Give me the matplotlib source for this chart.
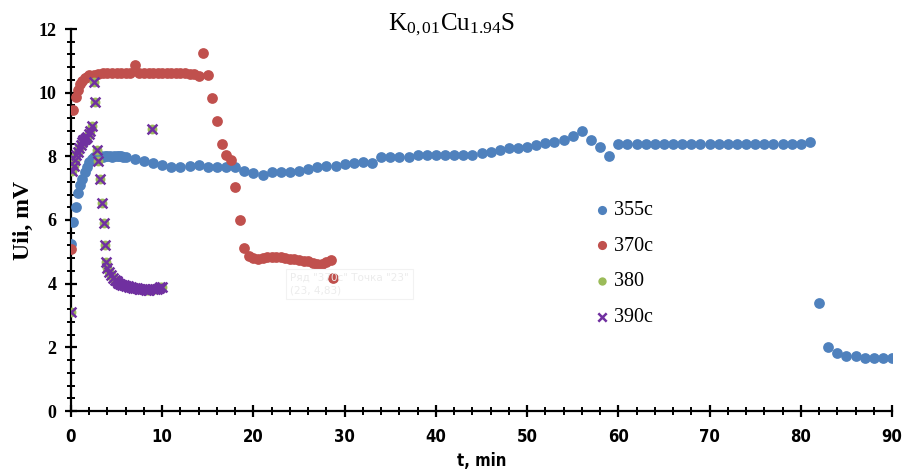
import matplotlib
matplotlib.use("Agg")
import matplotlib.pyplot as plt
from matplotlib.ticker import MultipleLocator

plt.rcParams["mathtext.fontset"] = "custom"
plt.rcParams["mathtext.rm"] = "Liberation Serif"
plt.rcParams["mathtext.it"] = "Liberation Serif:italic"
plt.rcParams["mathtext.bf"] = "Liberation Serif:bold"

# ---------------- data ----------------
t_355 = [0, 0.25, 0.5, 0.75, 1.0, 1.25, 1.5, 1.75, 2.0, 2.25, 2.5, 2.75, 3.0, 3.25,
         3.5, 3.75, 4.0, 4.25, 4.5, 4.75, 5.0, 5.25, 5.5, 5.75, 6.0,
         7, 8, 9, 10, 11, 12, 13, 14, 15, 16, 17, 18, 19, 20, 21, 22, 23, 24, 25,
         26, 27, 28, 29, 30, 31, 32, 33, 34, 35, 36, 37, 38, 39, 40, 41, 42, 43, 44,
         45, 46, 47, 48, 49, 50, 51, 52, 53, 54, 55, 56, 57, 58, 59, 60, 61, 62, 63,
         64, 65, 66, 67, 68, 69, 70, 71, 72, 73, 74, 75, 76, 77, 78, 79, 80, 81,
         82, 83, 84, 85, 86, 87, 88, 89, 90]
u_355 = [5.25, 5.95, 6.4, 6.85, 7.1, 7.3, 7.5, 7.68, 7.82, 7.92, 7.97, 8.0, 8.0, 8.0,
         7.99, 8.0, 8.01, 8.0, 7.99, 8.0, 8.01, 8.02, 8.0, 7.99, 7.99,
         7.93, 7.86, 7.8, 7.73, 7.68, 7.68, 7.7, 7.74, 7.68, 7.68, 7.68, 7.65, 7.55,
         7.49, 7.42, 7.5, 7.5, 7.5, 7.55, 7.6, 7.65, 7.7, 7.7, 7.75, 7.78, 7.81, 7.8,
         7.97, 7.97, 7.97, 7.97, 8.05, 8.05, 8.05, 8.05, 8.05, 8.05, 8.05,
         8.12, 8.15, 8.2, 8.25, 8.25, 8.3, 8.36, 8.41, 8.46, 8.51, 8.64, 8.8, 8.51,
         8.28, 8.02, 8.39, 8.39, 8.39, 8.39, 8.39, 8.39, 8.39, 8.39, 8.39, 8.39,
         8.39, 8.39, 8.39, 8.39, 8.39, 8.39, 8.39, 8.39, 8.39, 8.39, 8.39, 8.44,
         3.40, 2.02, 1.83, 1.73, 1.73, 1.67, 1.67, 1.67, 1.67]

t_370 = [0, 0.25, 0.5, 0.75, 1.0, 1.25, 1.5, 1.75, 2.0, 2.5, 3.0, 3.5, 4.0, 4.5,
         5.0, 5.5, 6.0, 6.5, 7.0, 7.5, 8.0, 8.5, 9.0, 9.5, 10.0, 10.5, 11.0, 11.5,
         12.0, 12.5, 13.0, 13.5, 14.0, 14.5, 15.0, 15.5, 16.0, 16.5, 17.0, 17.5,
         18.0, 18.5, 19.0, 19.5, 20.0, 20.5, 21.0, 21.5, 22.0, 22.5, 23.0, 23.5,
         24.0, 24.5, 25.0, 25.5, 26.0, 26.5, 27.0, 27.5, 28.0, 28.5, 28.7]
u_370 = [5.1, 9.46, 9.85, 10.08, 10.28, 10.38, 10.45, 10.5, 10.54, 10.57, 10.6,
         10.61, 10.62, 10.62, 10.62, 10.62, 10.61, 10.62, 10.87, 10.62, 10.62,
         10.62, 10.62, 10.62, 10.62, 10.62, 10.62, 10.62, 10.62, 10.61, 10.6,
         10.58, 10.52, 11.24, 10.55, 9.84, 9.12, 8.39, 8.04, 7.88, 7.04, 6.0, 5.12,
         4.86, 4.8, 4.78, 4.82, 4.83, 4.83, 4.83, 4.83, 4.8, 4.79, 4.77, 4.74, 4.72,
         4.7, 4.65, 4.62, 4.62, 4.68, 4.73, 4.17]

t_380 = [0, 0.15, 0.3, 0.45, 0.6, 0.75, 0.9, 1.05, 1.2, 1.35, 1.5, 1.65, 1.8,
         1.95, 2.1, 2.25, 2.5, 2.62, 2.8, 2.95, 3.15, 3.45, 3.6, 3.72, 3.84,
         4.0, 4.2, 4.4, 4.6, 4.8, 5.0, 5.2, 5.4, 5.6, 5.8, 6.0, 6.2, 6.4, 6.6,
         6.8, 7.0, 7.2, 7.4, 7.6, 7.8, 8.0, 8.2, 8.4, 8.6, 8.85, 9.0, 9.2, 9.4,
         9.6, 9.8, 10.0]
u_380 = [3.12, 7.55, 7.7, 7.9, 8.05, 8.15, 8.25, 8.35, 8.45, 8.5, 8.55, 8.58,
         8.62, 8.7, 8.8, 8.95, 10.35, 9.7, 8.2, 7.85, 7.3, 6.53, 5.92, 5.2, 4.69,
         4.5, 4.38, 4.26, 4.18, 4.12, 4.07, 4.03, 4.0, 3.97, 3.95, 3.93, 3.92,
         3.9, 3.88, 3.87, 3.86, 3.85, 3.84, 3.83, 3.82, 3.82, 3.81, 3.81, 3.81,
         8.86, 3.82, 3.83, 3.84, 3.86, 3.88, 3.9]

t_390 = list(t_380)
u_390 = list(u_380)

x_ticks = [0, 10, 20, 30, 40, 50, 60, 70, 80, 90]
y_ticks = [0, 2, 4, 6, 8, 10, 12]

# ---------------- figure ----------------
fig = plt.figure(figsize=(9.04, 4.71), dpi=100)
ax = fig.add_axes([71 / 904, 1 - 411 / 471, (892 - 71) / 904, (411 - 29) / 471])

ax.scatter(t_355, u_355, s=60, color="#4F81BD", label="355c", zorder=3, linewidths=0)
ax.scatter(t_370, u_370, s=60, color="#C0504D", label="370c", zorder=4, linewidths=0)
ax.scatter(t_380, u_380, s=50, color="#9BBB59", label="380", zorder=5, linewidths=0)
ax.scatter(t_390, u_390, s=50, color="#7030A0", marker="x", label="390c", zorder=6,
           linewidths=1.8)

ax.set_xlim(0, 90)
ax.set_ylim(0, 12)
ax.set_xticks(x_ticks)
ax.set_yticks(y_ticks)
ax.xaxis.set_minor_locator(MultipleLocator(2))
ax.yaxis.set_minor_locator(MultipleLocator(0.4))

for s in ["top", "right"]:
    ax.spines[s].set_visible(False)
for s in ["left", "bottom"]:
    ax.spines[s].set_linewidth(1.6)
    ax.spines[s].set_color("black")

ax.tick_params(axis="both", which="major", direction="inout", length=9, width=1.6)
ax.tick_params(axis="both", which="minor", direction="inout", length=6, width=1.4)
ax.tick_params(axis="x", which="major", pad=8)
ax.tick_params(axis="y", which="major", pad=6)

for lab in ax.get_xticklabels():
    lab.set_fontfamily("DejaVu Sans")
    lab.set_fontstretch("condensed")
    lab.set_fontweight("bold")
    lab.set_fontsize(12)
for lab in ax.get_yticklabels():
    lab.set_fontfamily("Liberation Serif")
    lab.set_fontweight("bold")
    lab.set_fontsize(13)

ax.set_xlabel("t, min", fontfamily="DejaVu Sans", fontstretch="condensed",
              fontweight="bold", fontsize=12, labelpad=4)
ax.set_ylabel("Uii, mV", fontfamily="Liberation Serif", fontweight="bold",
              fontsize=17, labelpad=3)

fig.text(452 / 904, 1 - 25 / 471, r"K$_{0,01}$Cu$_{1.94}$S", ha="center", va="center",
         fontfamily="Liberation Serif", fontsize=18)

# faint tooltip artifact
fig.text(290 / 904, 1 - 284 / 471, "Ряд \"370c\" Точка \"23\"\n(23, 4,83)",
         ha="left", va="center", fontfamily="DejaVu Sans", fontsize=7.5,
         color="#ececec", linespacing=1.3,
         bbox=dict(boxstyle="square,pad=0.4", fc="none", ec="#f2f2f2", lw=0.8))

leg = ax.legend(loc="upper left", bbox_to_anchor=(586 / 904, 1 - 191 / 471),
                bbox_transform=fig.transFigure, frameon=False,
                prop={"family": "Liberation Serif", "size": 14.5},
                labelspacing=0.82, handlelength=0.6, handletextpad=0.3,
                markerscale=0.85, borderpad=0)

fig.savefig("out.png", dpi=100)
